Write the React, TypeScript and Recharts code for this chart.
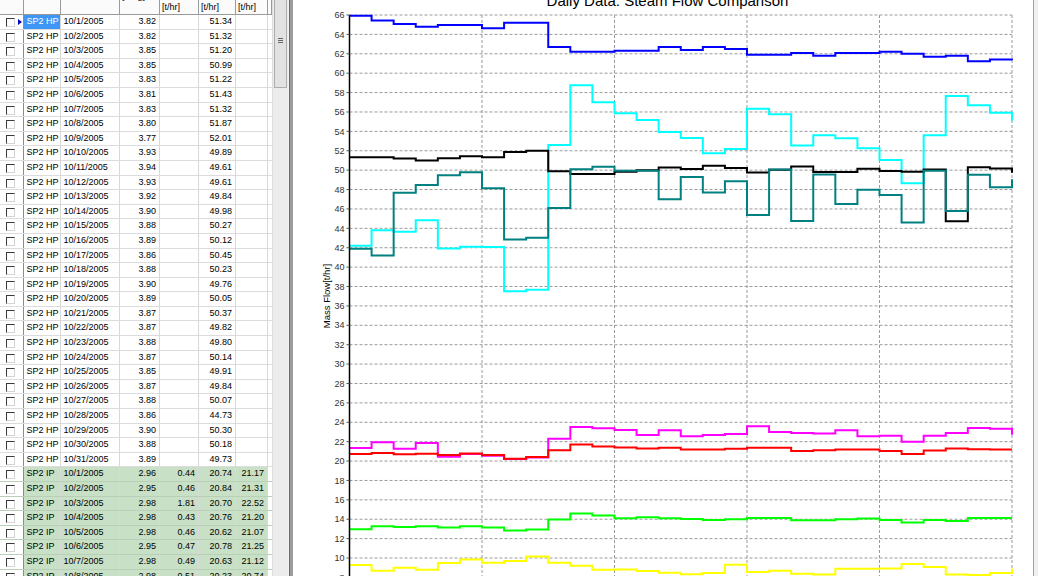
import React from "react";
import { CartesianGrid, Line, LineChart, XAxis, YAxis } from "recharts";

const days = [
  "10/1/2005", "10/2/2005", "10/3/2005", "10/4/2005", "10/5/2005", "10/6/2005", "10/7/2005", "10/8/2005",
  "10/9/2005", "10/10/2005", "10/11/2005", "10/12/2005", "10/13/2005", "10/14/2005", "10/15/2005", "10/16/2005",
  "10/17/2005", "10/18/2005", "10/19/2005", "10/20/2005", "10/21/2005", "10/22/2005", "10/23/2005", "10/24/2005",
  "10/25/2005", "10/26/2005", "10/27/2005", "10/28/2005", "10/29/2005", "10/30/2005", "10/31/2005",
];

// HP header rows of the grid
const hpPressure = [
  3.82, 3.82, 3.85, 3.85, 3.83, 3.81, 3.83, 3.80, 3.77, 3.93, 3.94, 3.93, 3.92, 3.90, 3.88, 3.89,
  3.86, 3.88, 3.90, 3.89, 3.87, 3.87, 3.88, 3.87, 3.85, 3.87, 3.88, 3.86, 3.90, 3.88, 3.89,
];
const hpFlow = [
  51.34, 51.32, 51.20, 50.99, 51.22, 51.43, 51.32, 51.87, 52.01, 49.89, 49.61, 49.61, 49.84, 49.98, 50.27, 50.12,
  50.45, 50.23, 49.76, 50.05, 50.37, 49.82, 49.80, 50.14, 49.91, 49.84, 50.07, 44.73, 50.30, 50.18, 49.73,
];

// IP rows (only the first ones are visible in the grid)
const ipPressure = [2.96, 2.95, 2.98, 2.98, 2.98, 2.95, 2.98, 2.98];
const ipExtraFlow = [0.44, 0.46, 1.81, 0.43, 0.46, 0.47, 0.49, 0.51];
const ipTotalFlow = [21.17, 21.31, 22.52, 21.20, 21.07, 21.25, 21.12, 20.74];
const ipFlow = [
  20.74, 20.84, 20.70, 20.76, 20.62, 20.78, 20.63, 20.23, 20.43, 21.12, 21.71, 21.50, 21.40, 21.29, 21.36, 21.18,
  21.19, 21.26, 21.36, 21.36, 21.05, 21.12, 21.19, 21.19, 21.05, 20.74, 21.09, 21.29, 21.23, 21.19, 21.19,
];

// other plotted series
const blueFlow = [
  65.93, 65.42, 65.07, 64.80, 64.97, 64.97, 64.63, 65.21, 65.21, 62.70, 62.22, 62.22, 62.32, 62.32, 62.70, 62.39,
  62.70, 62.49, 61.91, 61.91, 62.08, 61.81, 62.08, 62.08, 62.22, 62.01, 61.70, 61.81, 61.22, 61.40, 61.33,
];
const cyanFlow = [
  42.21, 43.79, 43.66, 44.83, 41.93, 42.10, 42.07, 37.52, 37.66, 52.60, 58.75, 57.00, 55.86, 55.18, 53.94, 53.32,
  51.74, 52.19, 56.34, 55.76, 52.53, 53.59, 53.28, 52.25, 51.05, 48.65, 53.59, 57.65, 56.69, 55.93, 55.10,
];
const tealFlow = [
  41.90, 41.21, 47.66, 48.48, 49.48, 49.79, 48.14, 42.86, 43.03, 46.10, 50.10, 50.34, 49.93, 49.93, 47.00, 49.30,
  47.69, 48.86, 45.38, 50.07, 44.76, 49.55, 46.52, 47.97, 47.45, 44.59, 49.93, 45.79, 49.52, 48.24, 49.07,
];
const magentaFlow = [
  21.34, 21.93, 21.28, 21.86, 20.45, 20.72, 20.55, 20.21, 20.38, 22.31, 23.52, 23.38, 23.21, 22.69, 23.17, 22.57,
  22.69, 22.79, 23.59, 23.00, 22.90, 22.83, 23.17, 22.55, 22.62, 22.00, 22.62, 22.90, 23.41, 23.34, 22.72,
];
const greenFlow = [
  12.97, 13.28, 13.21, 13.28, 13.14, 13.28, 13.14, 12.83, 12.93, 13.97, 14.59, 14.38, 14.10, 14.21, 14.10, 14.02,
  13.93, 14.00, 14.14, 14.14, 13.90, 13.90, 14.00, 14.07, 13.93, 13.66, 13.93, 13.83, 14.14, 14.14, 14.14,
];
const yellowFlow = [
  9.28, 8.69, 9.00, 8.79, 9.48, 9.86, 9.52, 9.69, 10.17, 9.52, 9.21, 8.79, 8.83, 8.66, 8.48, 8.34,
  8.45, 9.31, 8.55, 8.69, 8.38, 8.31, 8.90, 8.90, 8.93, 9.38, 9.07, 8.31, 8.24, 8.45, 8.93,
];

const yTicks = [0, 2, 4, 6, 8, 10, 12, 14, 16, 18, 20, 22, 24, 26, 28, 30, 32, 34, 36, 38, 40, 42, 44, 46, 48, 50, 52, 54, 56, 58, 60, 62, 64, 66];
const xTicks = [0, 3, 6, 9, 12, 15, 18, 21, 24, 27, 30];

const chartData = days.map((date, i) => ({
  d: i,
  date,
  blue: blueFlow[i],
  cyan: cyanFlow[i],
  black: hpFlow[i],
  teal: tealFlow[i],
  magenta: magentaFlow[i],
  red: ipFlow[i],
  green: greenFlow[i],
  yellow: yellowFlow[i],
}));

const seriesList = [
  { key: "blue", color: "#0000ff" },
  { key: "cyan", color: "#00ffff" },
  { key: "black", color: "#000000" },
  { key: "teal", color: "#008080" },
  { key: "magenta", color: "#ff00ff" },
  { key: "red", color: "#ff0000" },
  { key: "green", color: "#00ff00" },
  { key: "yellow", color: "#ffff00" },
];

type GridRow = { name: string; date: string; p: string; a: string; b: string; c: string; green: boolean };

const gridRows: GridRow[] = [
  ...days.map((date, i) => ({
    name: "SP2 HP", date, p: hpPressure[i].toFixed(2), a: "", b: hpFlow[i].toFixed(2), c: "", green: false,
  })),
  ...ipPressure.map((p, i) => ({
    name: "SP2 IP", date: days[i], p: p.toFixed(2), a: ipExtraFlow[i].toFixed(2),
    b: ipFlow[i].toFixed(2), c: ipTotalFlow[i].toFixed(2), green: true,
  })),
];

const colWidths = [24, 37, 59, 40, 39, 37, 32, 4];
const ROW_H = 14.6;
const gridFont = "'Liberation Sans', Arial, sans-serif";

const cellBase: React.CSSProperties = {
  boxSizing: "border-box",
  height: "100%",
  borderRight: "1px solid #d9d9d9",
  whiteSpace: "nowrap",
  overflow: "hidden",
  lineHeight: `${ROW_H - 1}px`,
};

const DataGrid: React.FC = () => {
  const headers = [
    { top: "", bottom: "" },
    { top: "", bottom: "" },
    { top: "Date", bottom: "" },
    { top: "[barg]", bottom: "" },
    { top: "Flow", bottom: "[t/hr]" },
    { top: "Flow", bottom: "[t/hr]" },
    { top: "Flow", bottom: "[t/hr]" },
    { top: "", bottom: "" },
  ];
  return (
    <div style={{ position: "absolute", left: 0, top: 0, width: 272, height: 576, background: "#fff", fontFamily: gridFont, fontSize: 9, color: "#000", overflow: "hidden" }}>
      <div style={{ display: "flex", height: 15, boxSizing: "border-box", borderBottom: "1px solid #9a9a9a", background: "#fbfbfb" }}>
        {headers.map((h, i) => (
          <div key={i} style={{ position: "relative", width: colWidths[i], height: "100%", boxSizing: "border-box", borderRight: "1px solid #9a9a9a", overflow: "hidden" }}>
            <div style={{ position: "absolute", left: 2, top: -9, lineHeight: "11px" }}>{h.top}</div>
            <div style={{ position: "absolute", left: 2, top: 2, lineHeight: "11px" }}>{h.bottom}</div>
          </div>
        ))}
      </div>
      {gridRows.map((r, ri) => {
        const bg = r.green ? "#c8e0c6" : "#fff";
        const rowBorder = r.green ? "#b9cfb8" : "#dcdcdc";
        return (
          <div key={ri} style={{ display: "flex", height: ROW_H, boxSizing: "border-box", borderBottom: `1px solid ${rowBorder}` }}>
            <div style={{ ...cellBase, width: colWidths[0], position: "relative", borderRight: "1px solid #8c8c8c", background: "#fff" }}>
              <div style={{ position: "absolute", left: 6, top: 3, width: 9, height: 9, boxSizing: "border-box", border: "1px solid", borderColor: "#3a3a3a #d4d4d4 #d4d4d4 #3a3a3a", background: "#fff" }} />
              {ri === 0 && (
                <div style={{ position: "absolute", left: 18, top: 3.5, width: 0, height: 0, borderTop: "3.5px solid transparent", borderBottom: "3.5px solid transparent", borderLeft: "4px solid #0000c8" }} />
              )}
            </div>
            <div style={{ ...cellBase, width: colWidths[1], paddingLeft: 2.5, background: ri === 0 ? "#3d95f5" : bg, color: ri === 0 ? "#fff" : "#000" }}>{r.name}</div>
            <div style={{ ...cellBase, width: colWidths[2], paddingLeft: 2.5, background: bg }}>{r.date}</div>
            <div style={{ ...cellBase, width: colWidths[3], paddingRight: 3, textAlign: "right", background: bg }}>{r.p}</div>
            <div style={{ ...cellBase, width: colWidths[4], paddingRight: 3, textAlign: "right", background: bg }}>{r.a}</div>
            <div style={{ ...cellBase, width: colWidths[5], paddingRight: 3, textAlign: "right", background: bg }}>{r.b}</div>
            <div style={{ ...cellBase, width: colWidths[6], paddingRight: 3, textAlign: "right", background: bg }}>{r.c}</div>
            <div style={{ ...cellBase, width: colWidths[7], background: "#fff", borderRight: "none" }} />
          </div>
        );
      })}
    </div>
  );
};

const App: React.FC = () => {
  return (
    <div style={{ position: "fixed", left: 0, top: 0, width: 1038, height: 576, overflow: "hidden", background: "#f0f0f0" }}>
      <DataGrid />
      {/* vertical scrollbar of the grid */}
      <div style={{ position: "absolute", left: 272, top: 0, width: 16, height: 576, background: "#ececec", borderLeft: "1px solid #dedede", boxSizing: "border-box" }}>
        <div style={{ position: "absolute", left: 1, top: -4, width: 13, height: 92, boxSizing: "border-box", border: "1px solid #adadad", background: "#e2e2e2" }}>
          <div style={{ position: "absolute", left: 3, top: 41, width: 5, height: 1, background: "#666" }} />
          <div style={{ position: "absolute", left: 3, top: 43, width: 5, height: 1, background: "#666" }} />
          <div style={{ position: "absolute", left: 3, top: 45, width: 5, height: 1, background: "#666" }} />
        </div>
      </div>
      {/* splitter */}
      <div style={{ position: "absolute", left: 289, top: 0, width: 4, height: 576, background: "#9c9c9c", borderLeft: "1px solid #6e6e6e", boxSizing: "border-box" }} />
      {/* chart panel */}
      <div style={{ position: "absolute", left: 293, top: 0, width: 741, height: 576, background: "#fff", borderRight: "1px solid #a0a0a0", boxSizing: "border-box", overflow: "hidden" }}>
        <div style={{ position: "absolute", left: 174.5, top: -7.2, width: 400, textAlign: "center", fontFamily: "'Liberation Sans', Arial, sans-serif", fontSize: 15, lineHeight: "15px", color: "#000" }}>
          Daily Data: Steam Flow Comparison
        </div>
        <div style={{ position: "absolute", left: 34 - 50, top: 296 - 6, width: 100, height: 12, lineHeight: "12px", textAlign: "center", transform: "rotate(-90deg)", transformOrigin: "50% 50%", fontFamily: "'Liberation Sans', Arial, sans-serif", fontSize: 9.5, color: "#000" }}>
          Mass Flow[t/hr]
        </div>
        <LineChart width={741} height={700} data={chartData} margin={{ top: 15, right: 22, left: 16.5, bottom: 15 }}>
          <CartesianGrid stroke="#9a9a9a" strokeDasharray="3 2" verticalPoints={undefined} />
          <XAxis
            dataKey="d"
            type="number"
            domain={[0, 30]}
            ticks={xTicks}
            tickFormatter={(v: number) => days[v]}
            height={30}
            axisLine={{ stroke: "#000" }}
            tick={{ fontSize: 9, fill: "#333", fontFamily: "'Liberation Sans', Arial, sans-serif" }}
          />
          <YAxis
            type="number"
            domain={[0, 66]}
            ticks={yTicks}
            interval={0}
            width={40}
            tickSize={3}
            axisLine={{ stroke: "#000", strokeWidth: 1.5 }}
            tickLine={{ stroke: "#555" }}
            tick={{ fontSize: 9, fill: "#333", fontFamily: "'Liberation Sans', Arial, sans-serif" }}
          />
          {seriesList.map((s) => (
            <Line
              key={s.key}
              dataKey={s.key}
              type="stepAfter"
              stroke={s.color}
              strokeWidth={2}
              dot={false}
              activeDot={false}
              isAnimationActive={false}
            />
          ))}
        </LineChart>
      </div>
    </div>
  );
};

export default App;
